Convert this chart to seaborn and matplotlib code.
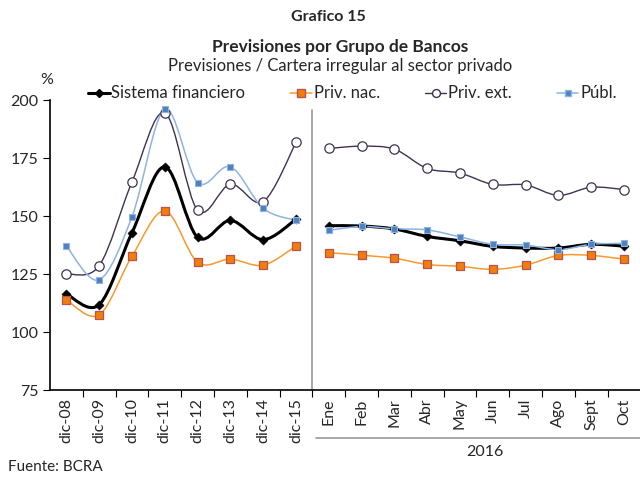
import numpy as np
import matplotlib
matplotlib.use("Agg")
import matplotlib.pyplot as plt
from matplotlib.path import Path
from matplotlib.patches import PathPatch
from matplotlib.lines import Line2D
import seaborn as sns

labels = ["dic-08", "dic-09", "dic-10", "dic-11", "dic-12", "dic-13", "dic-14", "dic-15",
          "Ene", "Feb", "Mar", "Abr", "May", "Jun", "Jul", "Ago", "Sept", "Oct"]
sistema = [116.4, 111.8, 142.8, 171.2, 140.8, 148.1, 139.8, 148.6,
           145.8, 145.7, 144.4, 141.2, 139.3, 136.9, 136.2, 136.2, 137.8, 137.0]
priv_nac = [113.8, 107.4, 132.7, 152.2, 130.1, 131.4, 128.8, 137.0,
            134.2, 133.1, 131.8, 129.1, 128.3, 127.0, 128.8, 133.0, 133.0, 131.4]
priv_ext = [125.0, 128.6, 164.7, 194.5, 152.5, 163.7, 156.2, 181.7,
            179.1, 180.1, 178.8, 170.5, 168.5, 163.6, 163.4, 158.9, 162.4, 161.4]
publ = [137.0, 122.5, 149.7, 196.0, 164.4, 171.2, 153.3, 148.1,
        143.8, 145.5, 144.5, 144.0, 141.0, 137.8, 137.5, 135.5, 137.8, 138.2]
split = 8  # annual points | monthly 2016

sns.set_style("ticks")
plt.rcParams["font.family"] = ["Lato", "DejaVu Sans"]

fig = plt.figure(figsize=(6.4, 4.78), dpi=100)
ax = fig.add_axes([50 / 640, 1 - 390 / 478, 590 / 640, 290 / 478])


def smooth_path(x, y):
    # Excel-like smoothed line: cubic Bezier through the points
    p = np.column_stack([x, y]).astype(float)
    ext = np.vstack([p[0], p, p[-1]])
    verts = [p[0]]
    codes = [Path.MOVETO]
    for i in range(len(p) - 1):
        c1 = ext[i + 1] + (ext[i + 2] - ext[i]) / 6
        c2 = ext[i + 2] - (ext[i + 3] - ext[i + 1]) / 6
        verts += [c1, c2, ext[i + 2]]
        codes += [Path.CURVE4] * 3
    return Path(verts, codes)


series = [
    ("Sistema financiero", sistema, dict(color="black", lw=2.2),
     dict(marker="D", s=22, color="black", edgecolor="black")),
    ("Priv. nac.", priv_nac, dict(color="#F79A2E", lw=1.1),
     dict(marker="s", s=40, color="#F07F09", edgecolor="#C0504D", linewidth=0.9)),
    ("Priv. ext.", priv_ext, dict(color="#403152", lw=1.0),
     dict(marker="o", s=45, color="white", edgecolor="#403152", linewidth=0.9)),
    ("Públ.", publ, dict(color="#8DB4E2", lw=1.1),
     dict(marker="s", s=20, color="#4F81BD", edgecolor="#8DB4E2", linewidth=0.8)),
]

x = np.arange(len(labels))
handles = []
for name, vals, lkw, mkw in series:
    vals = np.array(vals)
    for sl in (slice(0, split), slice(split, None)):
        ax.add_patch(PathPatch(smooth_path(x[sl], vals[sl]), facecolor="none",
                               edgecolor=lkw["color"], lw=lkw["lw"], zorder=2))
    sns.scatterplot(x=x, y=vals, ax=ax, zorder=3, legend=False, **mkw)
    handles.append(Line2D([], [], color=lkw["color"], lw=lkw["lw"], marker=mkw["marker"],
                          markersize=np.sqrt(mkw["s"]) * 0.85,
                          markerfacecolor=mkw["color"], markeredgecolor=mkw["edgecolor"],
                          label=name))

ax.set_xlim(-0.5, -0.5 + 590 / 32.8)
ax.set_ylim(75, 200)
ax.set_yticks([75, 100, 125, 150, 175, 200])
ax.set_xticks(x)
ax.set_xticklabels(labels, rotation=90, fontsize=11.5)
ax.set_xticks(np.arange(0.5, 17, 1), minor=True)
ax.tick_params(axis="x", which="major", length=0, pad=6)
ax.tick_params(axis="x", which="minor", length=5, color="black", width=0.8, direction="out")
ax.tick_params(axis="y", labelsize=11.5, length=5, width=0.8, color="black")
for s in ("top", "right"):
    ax.spines[s].set_visible(False)
for s in ("left", "bottom"):
    ax.spines[s].set_color("black")
    ax.spines[s].set_linewidth(1.2)

ax.axvline(split - 0.5, ymin=0, ymax=(195.7 - 75) / 125, color="#999999", lw=1.2, zorder=1)

ax.legend(handles=handles, loc="lower left", bbox_to_anchor=(38 / 590, 0.995), ncol=4,
          frameon=False, fontsize=12, handlelength=1.3, handletextpad=0.1,
          columnspacing=2.7, borderaxespad=0, borderpad=0)

fig.text(328 / 640, 1 - 17 / 478, "Grafico 15", ha="center", va="center", fontsize=11.5,
         fontweight="bold")
fig.text(340 / 640, 1 - 47 / 478, "Previsiones por Grupo de Bancos", ha="center", va="center",
         fontsize=12.5, fontweight="bold")
fig.text(340 / 640, 1 - 66 / 478, "Previsiones / Cartera irregular al sector privado", ha="center",
         va="center", fontsize=12)
fig.text(47 / 640, 1 - 80 / 478, "%", ha="center", va="center", fontsize=11.5)
fig.add_artist(Line2D([316 / 640, 1.0], [1 - 438 / 478, 1 - 438 / 478], color="#999999", lw=1.2))
fig.text(485 / 640, 1 - 452 / 478, "2016", ha="center", va="center", fontsize=11.5)
fig.text(8 / 640, 1 - 467 / 478, "Fuente: BCRA", ha="left", va="center", fontsize=11)

fig.savefig("out.png", dpi=100)
